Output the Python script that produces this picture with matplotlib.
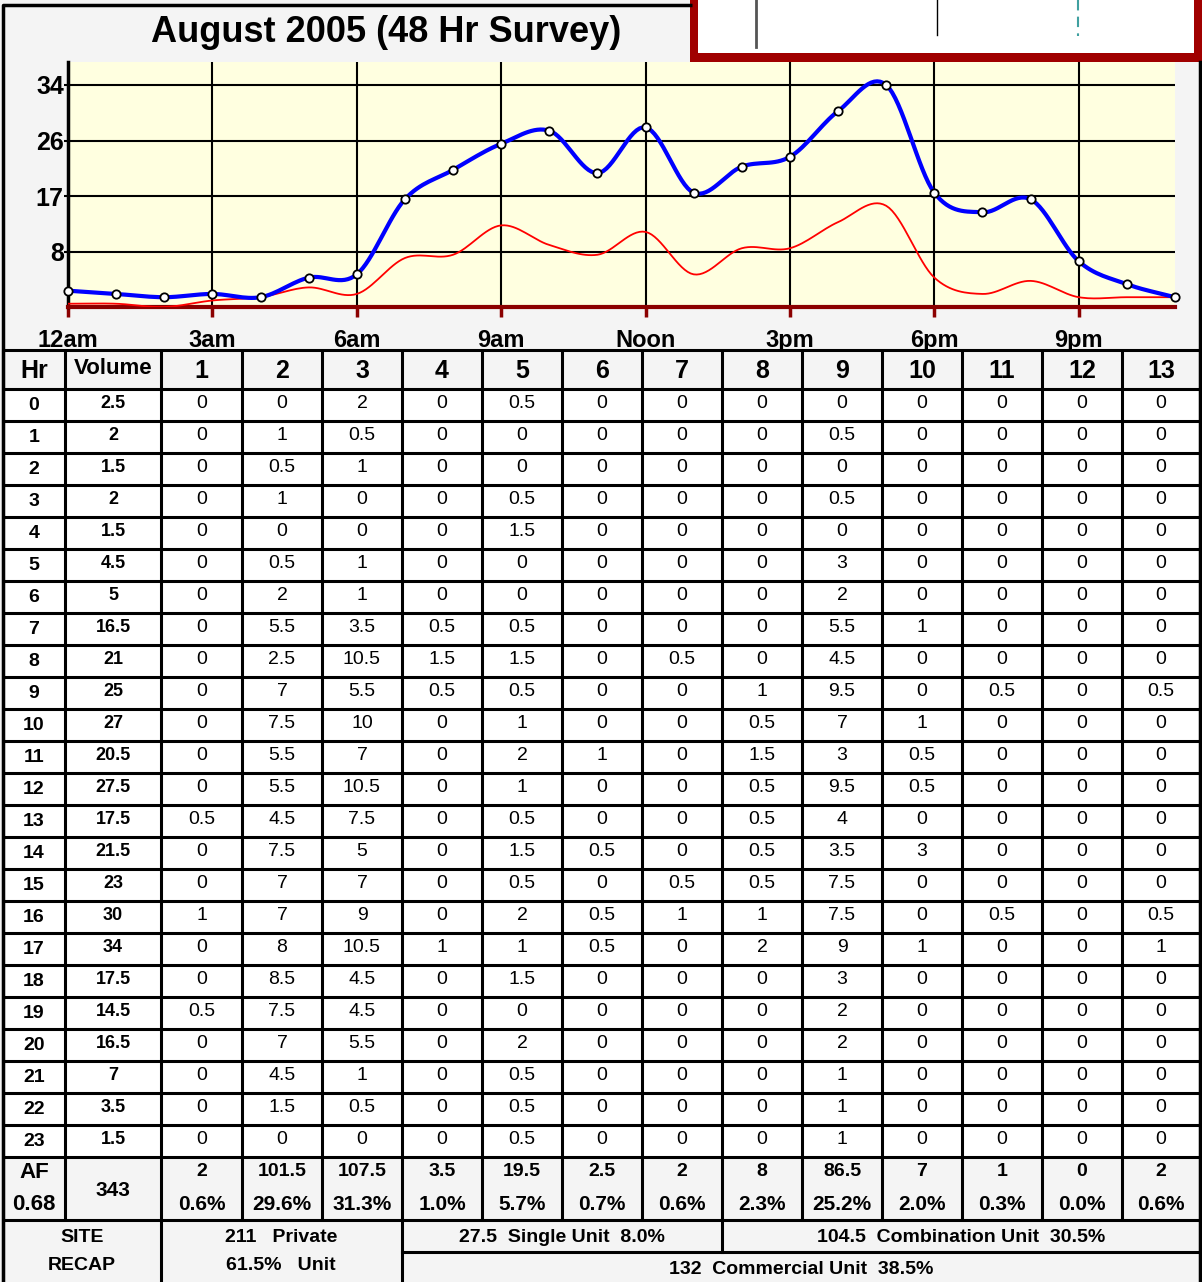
import numpy as np
import matplotlib.pyplot as plt
from matplotlib import font_manager
from matplotlib.patches import Rectangle

# ---- data ----
hours = list(range(24))
volume = [2.5, 2, 1.5, 2, 1.5, 4.5, 5, 16.5, 21, 25, 27, 20.5,
          27.5, 17.5, 21.5, 23, 30, 34, 17.5, 14.5, 16.5, 7, 3.5, 1.5]
# vehicle class counts per hour, classes 1..13
classes = [
    [0, 0, 2, 0, 0.5, 0, 0, 0, 0, 0, 0, 0, 0],
    [0, 1, 0.5, 0, 0, 0, 0, 0, 0.5, 0, 0, 0, 0],
    [0, 0.5, 1, 0, 0, 0, 0, 0, 0, 0, 0, 0, 0],
    [0, 1, 0, 0, 0.5, 0, 0, 0, 0.5, 0, 0, 0, 0],
    [0, 0, 0, 0, 1.5, 0, 0, 0, 0, 0, 0, 0, 0],
    [0, 0.5, 1, 0, 0, 0, 0, 0, 3, 0, 0, 0, 0],
    [0, 2, 1, 0, 0, 0, 0, 0, 2, 0, 0, 0, 0],
    [0, 5.5, 3.5, 0.5, 0.5, 0, 0, 0, 5.5, 1, 0, 0, 0],
    [0, 2.5, 10.5, 1.5, 1.5, 0, 0.5, 0, 4.5, 0, 0, 0, 0],
    [0, 7, 5.5, 0.5, 0.5, 0, 0, 1, 9.5, 0, 0.5, 0, 0.5],
    [0, 7.5, 10, 0, 1, 0, 0, 0.5, 7, 1, 0, 0, 0],
    [0, 5.5, 7, 0, 2, 1, 0, 1.5, 3, 0.5, 0, 0, 0],
    [0, 5.5, 10.5, 0, 1, 0, 0, 0.5, 9.5, 0.5, 0, 0, 0],
    [0.5, 4.5, 7.5, 0, 0.5, 0, 0, 0.5, 4, 0, 0, 0, 0],
    [0, 7.5, 5, 0, 1.5, 0.5, 0, 0.5, 3.5, 3, 0, 0, 0],
    [0, 7, 7, 0, 0.5, 0, 0.5, 0.5, 7.5, 0, 0, 0, 0],
    [1, 7, 9, 0, 2, 0.5, 1, 1, 7.5, 0, 0.5, 0, 0.5],
    [0, 8, 10.5, 1, 1, 0.5, 0, 2, 9, 1, 0, 0, 1],
    [0, 8.5, 4.5, 0, 1.5, 0, 0, 0, 3, 0, 0, 0, 0],
    [0.5, 7.5, 4.5, 0, 0, 0, 0, 0, 2, 0, 0, 0, 0],
    [0, 7, 5.5, 0, 2, 0, 0, 0, 2, 0, 0, 0, 0],
    [0, 4.5, 1, 0, 0.5, 0, 0, 0, 1, 0, 0, 0, 0],
    [0, 1.5, 0.5, 0, 0.5, 0, 0, 0, 1, 0, 0, 0, 0],
    [0, 0, 0, 0, 0.5, 0, 0, 0, 1, 0, 0, 0, 0],
]
af_value = 0.68
x_ticks = [0, 3, 6, 9, 12, 15, 18, 21]
x_labels = ['12am', '3am', '6am', '9am', 'Noon', '3pm', '6pm', '9pm']
y_ticks = [8.5, 17, 25.5, 34]
y_labels = ['8', '17', '26', '34']

cls = np.array(classes, dtype=float)
total = sum(volume)
col_tot = cls.sum(axis=0)
commercial = cls[:, 3:].sum(axis=1)
private = col_tot[:3].sum()
single = col_tot[3:7].sum()
combo = col_tot[7:].sum()
comm_tot = col_tot[3:].sum()

# fonts
names = {f.name for f in font_manager.fontManager.ttflist}
NARROW = 'Liberation Sans Narrow' if 'Liberation Sans Narrow' in names else 'Liberation Sans'
ARIAL = 'Liberation Sans'


def fmt(v):
    return f"{v:g}"


def smooth(x, y, n=16):
    # catmull-rom curve through the points
    x = np.asarray(x, float)
    y = np.asarray(y, float)
    px = np.concatenate([[2 * x[0] - x[1]], x, [2 * x[-1] - x[-2]]])
    py = np.concatenate([[2 * y[0] - y[1]], y, [2 * y[-1] - y[-2]]])
    t = np.linspace(0, 1, n, endpoint=False)
    xs, ys = [], []
    for i in range(1, len(px) - 2):
        for out, p in ((xs, px), (ys, py)):
            p0, p1, p2, p3 = p[i - 1], p[i], p[i + 1], p[i + 2]
            out.append(0.5 * (2 * p1 + (-p0 + p2) * t
                              + (2 * p0 - 5 * p1 + 4 * p2 - p3) * t ** 2
                              + (-p0 + 3 * p1 - 3 * p2 + p3) * t ** 3))
    xs.append([x[-1]])
    ys.append([y[-1]])
    return np.concatenate(xs), np.concatenate(ys)


W, H = 1202, 1282
fig = plt.figure(figsize=(W / 100, H / 100), dpi=100, facecolor='#F4F4F4')

# background canvas in pixel units
bg = fig.add_axes([0, 0, 1, 1])
bg.set_xlim(0, W)
bg.set_ylim(H, 0)
bg.axis('off')

# title box + legend box
bg.plot([3, 3, 692], [H, 5, 5], color='black', lw=2.5, solid_capstyle='butt')
bg.text(386, 33, 'August 2005 (48 Hr Survey)', ha='center', va='center',
        fontsize=26, fontweight='bold', family=ARIAL)
bg.add_patch(Rectangle((690, 0), 512, 62, facecolor='#A00000', edgecolor='none'))
bg.add_patch(Rectangle((698, 0), 496, 53, facecolor='white', edgecolor='none'))
bg.plot([756, 756], [0, 47], color='#555555', lw=2)
bg.plot([937, 937], [0, 35], color='black', lw=1)
bg.plot([1078, 1078], [0, 36], color='#40A0A0', lw=1.5, ls=(0, (5, 3)))
bg.plot([1200, 1200], [62, H], color='black', lw=2.5)

# ---- chart ----
left, right, top, bottom = 68, 1175, 62, 307
ax = fig.add_axes([left / W, 1 - bottom / H, (right - left) / W, (bottom - top) / H])
ax.set_facecolor('#FFFFE0')
ax.set_xlim(0, 23)
ax.set_ylim(0, 34 * (bottom - top) / (bottom - 85))
ax.set_xticks(x_ticks, x_labels)
ax.set_yticks(y_ticks, y_labels)
ax.grid(True, color='black', lw=1.5)
ax.set_axisbelow(True)
for s in ('top', 'right'):
    ax.spines[s].set_visible(False)
ax.spines['left'].set_linewidth(2.5)
ax.spines['bottom'].set_linewidth(3)
ax.spines['bottom'].set_color('#8B0000')
ax.tick_params(axis='x', length=7, width=2.5, color='#8B0000', pad=9)
ax.tick_params(axis='y', length=3, width=1.5, pad=0)
for lab in ax.get_xticklabels():
    lab.set_fontsize(17)
    lab.set_fontweight('bold')
    lab.set_family(ARIAL)
for lab in ax.get_yticklabels():
    lab.set_fontsize(18)
    lab.set_fontweight('bold')
    lab.set_family(NARROW)

sx, sy = smooth(hours, commercial)
ax.plot(sx, sy, color='#FF0000', lw=1.3, zorder=3)
sx, sy = smooth(hours, volume)
ax.plot(sx, sy, color='#0000FF', lw=3, zorder=4)
ax.plot(hours, volume, 'o', ms=6, mfc='white', mec='black', mew=1.3,
        zorder=5, clip_on=False)

# ---- table ----
col_x = [3, 65, 161, 242, 322, 402, 482, 562, 642, 722, 802, 882, 962, 1042, 1122, 1200]
head_top, head_bot = 350, 389
row_h = 32
data_bot = head_bot + 24 * row_h
af_bot = 1220
recap_mid = 1252
lw_t = 2.2

bg.add_patch(Rectangle((3, head_bot), 1197, data_bot - head_bot,
                       facecolor='white', edgecolor='none'))

hlines = [head_top, head_bot] + [head_bot + i * row_h for i in range(1, 25)] + [af_bot]
for y in hlines:
    bg.plot([3, 1200], [y, y], color='black', lw=lw_t, solid_capstyle='butt')
bg.plot([402, 1200], [recap_mid, recap_mid], color='black', lw=lw_t)
for x in col_x:
    bg.plot([x, x], [head_top, af_bot], color='black', lw=lw_t, solid_capstyle='butt')
for x in (3, 161, 402, 1200):
    bg.plot([x, x], [af_bot, H], color='black', lw=lw_t, solid_capstyle='butt')
bg.plot([722, 722], [af_bot, recap_mid], color='black', lw=lw_t)

centers = [(col_x[i] + col_x[i + 1]) / 2 for i in range(len(col_x) - 1)]
hy = (head_top + head_bot) / 2 + 1
bg.text(centers[0], hy, 'Hr', ha='center', va='center', fontsize=18,
        fontweight='bold', family=ARIAL)
bg.text(centers[1], hy - 2, 'Volume', ha='center', va='center', fontsize=16,
        fontweight='bold', family=NARROW)
for k in range(13):
    bg.text(centers[k + 2], hy, str(k + 1), ha='center', va='center',
            fontsize=18, fontweight='bold', family=ARIAL)

for i, h in enumerate(hours):
    yc = head_bot + i * row_h + row_h / 2
    bg.text(centers[0], yc + 1, str(h), ha='center', va='center', fontsize=14,
            fontweight='bold', family=NARROW)
    bg.text(centers[1], yc - 1, fmt(volume[i]), ha='center', va='center',
            fontsize=13, fontweight='bold', family=NARROW)
    for k in range(13):
        bg.text(centers[k + 2], yc - 1, fmt(classes[i][k]), ha='center',
                va='center', fontsize=14, family=NARROW)

# AF row
bg.text(centers[0], 1173, 'AF', ha='center', va='center', fontsize=16,
        fontweight='bold', family=NARROW)
bg.text(centers[0], 1204, f"{af_value:.2f}", ha='center', va='center',
        fontsize=16, fontweight='bold', family=NARROW)
bg.text(centers[1], 1190, fmt(total), ha='center', va='center', fontsize=15,
        fontweight='bold', family=NARROW)
for k in range(13):
    bg.text(centers[k + 2], 1172, fmt(col_tot[k]), ha='center', va='center',
            fontsize=14, fontweight='bold', family=NARROW)
    bg.text(centers[k + 2], 1205, f"{col_tot[k] / total * 100:.1f}%", ha='center',
            va='center', fontsize=15, fontweight='bold', family=NARROW)

# site recap
rk = dict(ha='center', va='center', fontsize=14, fontweight='bold', family=NARROW)
bg.text(82, 1237, 'SITE', **rk)
bg.text(82, 1265, 'RECAP', **rk)
bg.text(281, 1237, f"{fmt(private)}   Private", **rk)
bg.text(281, 1265, f"{private / total * 100:.1f}%   Unit", **rk)
bg.text(562, 1237, f"{fmt(single)}  Single Unit  {single / total * 100:.1f}%", **rk)
bg.text(961, 1237, f"{fmt(combo)}  Combination Unit  {combo / total * 100:.1f}%", **rk)
bg.text(801, 1269, f"{fmt(comm_tot)}  Commercial Unit  {comm_tot / total * 100:.1f}%", **rk)

fig.savefig('out.png', dpi=100, facecolor=fig.get_facecolor())
